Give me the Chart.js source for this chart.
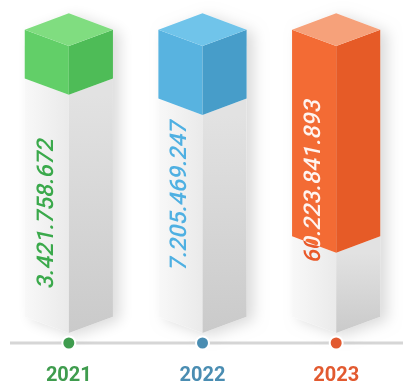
<!DOCTYPE html>
<html>
<head>
<meta charset="utf-8">
<script src="https://cdn.jsdelivr.net/npm/chart.js@4.4.1/dist/chart.umd.min.js"></script>
<style>
    html, body { margin: 0; padding: 0; background: #fff; }
    #wrap { width: 403px; height: 385px; }
</style>
</head>
<body>
<div id="wrap"><canvas id="chart" width="403" height="385"></canvas></div>
<script>
// data
let years = ['2021', '2022', '2023']
let totals = [3421758672, 7205469247, 60223841893]
// part of each column painted in colour, in % of the column
let colorShare = [17, 24, 72]
let restShare = colorShare.map(v => 100 - v)

// styles
let topColors = ['#80dd80', '#70c4ea', '#f6a17a']
let leftColors = ['#62cf68', '#58b3e0', '#f36b34']
let rightColors = ['#4ebc57', '#479dc9', '#e65b27']
let textColors = ['#3aa94b', '#4fb0e2', '#e9592a']
let yearColors = ['#3f9c4e', '#4a8db2', '#e25a30']
let labelLift = [45, 63, 71]

let fmt = n => String(n).replace(/\B(?=(\d{3})+(?!\d))/g, '.')

let poly = (ctx, pts) => {
    ctx.beginPath()
    ctx.moveTo(pts[0][0], pts[0][1])
    for (let i = 1; i < pts.length; i++)
        ctx.lineTo(pts[i][0], pts[i][1])
    ctx.closePath()
}

let cubePlugin = {
    id: 'cubes',
    afterDatasetsDraw(chart) {
        let ctx = chart.ctx
        let grayMeta = chart.getDatasetMeta(0)
        let colMeta = chart.getDatasetMeta(1)
        let area = chart.chartArea

        // timeline
        let lineY = area.bottom + 10
        ctx.save()
        ctx.strokeStyle = '#d6d6d6'
        ctx.lineWidth = 3
        ctx.beginPath()
        ctx.moveTo(10, lineY)
        ctx.lineTo(403, lineY)
        ctx.stroke()
        ctx.restore()

        colMeta.data.forEach((bar, i) => {
            let x = bar.x, h = bar.width / 2
            let dy = h * 0.37
            let top = bar.y, mid = bar.base, bottom = grayMeta.data[i].base

            // soft shadow
            ctx.save()
            ctx.shadowColor = 'rgba(0,0,0,0.14)'
            ctx.shadowBlur = 14
            ctx.shadowOffsetX = 7
            ctx.shadowOffsetY = 3
            ctx.fillStyle = '#fff'
            poly(ctx, [[x - h, top - dy], [x, top - 2 * dy], [x + h, top - dy], [x + h, bottom - dy], [x, bottom], [x - h, bottom - dy]])
            ctx.fill()
            ctx.restore()

            // gray part
            let gl = ctx.createLinearGradient(x - h, 0, x, 0)
            gl.addColorStop(0, '#f8f8f8')
            gl.addColorStop(1, '#eaeaea')
            ctx.fillStyle = gl
            poly(ctx, [[x - h, mid - dy], [x, mid], [x, bottom], [x - h, bottom - dy]])
            ctx.fill()
            let gr = ctx.createLinearGradient(0, mid, 0, bottom)
            gr.addColorStop(0, '#e2e2e2')
            gr.addColorStop(1, '#cacaca')
            ctx.fillStyle = gr
            poly(ctx, [[x, mid], [x + h, mid - dy], [x + h, bottom - dy], [x, bottom]])
            ctx.fill()

            // coloured part
            let leftFace = [[x - h, top - dy], [x, top], [x, mid], [x - h, mid - dy]]
            ctx.fillStyle = leftColors[i]
            poly(ctx, leftFace)
            ctx.fill()
            ctx.fillStyle = rightColors[i]
            poly(ctx, [[x, top], [x + h, top - dy], [x + h, mid - dy], [x, mid]])
            ctx.fill()
            ctx.fillStyle = topColors[i]
            poly(ctx, [[x, top], [x - h, top - dy], [x, top - 2 * dy], [x + h, top - dy]])
            ctx.fill()

            // value label, slanted by hand
            let drawValue = color => {
                ctx.save()
                ctx.translate(x - h / 2, bottom - labelLift[i])
                ctx.rotate(-Math.PI / 2)
                ctx.transform(1, 0, -0.21, 1, 0, 0)
                ctx.font = '500 23px Roboto'
                ctx.textAlign = 'left'
                ctx.textBaseline = 'middle'
                ctx.fillStyle = color
                ctx.fillText(fmt(totals[i]), 0, 0)
                ctx.restore()
            }
            drawValue(textColors[i])
            ctx.save()
            poly(ctx, leftFace)
            ctx.clip()
            drawValue('#fff4ef')
            ctx.restore()

            // dot
            ctx.save()
            ctx.fillStyle = '#fff'
            ctx.beginPath()
            ctx.arc(x, lineY, 7.5, 0, Math.PI * 2)
            ctx.fill()
            ctx.fillStyle = yearColors[i]
            ctx.beginPath()
            ctx.arc(x, lineY, 5.5, 0, Math.PI * 2)
            ctx.fill()
            // year
            ctx.font = 'bold 20px Roboto'
            ctx.textAlign = 'center'
            ctx.textBaseline = 'middle'
            ctx.fillText(years[i], x, area.bottom + 43)
            ctx.restore()
        })
    }
}

new Chart('chart', {
    type: 'bar',
    data: {
        labels: years,
        datasets: [{
            label: 'rest',
            data: restShare,
            backgroundColor: 'transparent'
        }, {
            label: 'share',
            data: colorShare,
            backgroundColor: 'transparent'
        }]
    },
    options: {
        responsive: false,
        animation: false,
        layout: { padding: { top: 46, bottom: 52, left: 2, right: 0 } },
        datasets: { bar: { barPercentage: 0.66, categoryPercentage: 1 } },
        plugins: { legend: { display: false }, tooltip: { enabled: false } },
        scales: {
            x: { display: false, stacked: true },
            y: { display: false, stacked: true, min: 0, max: 100 }
        }
    },
    plugins: [cubePlugin]
})
</script>
</body>
</html>
